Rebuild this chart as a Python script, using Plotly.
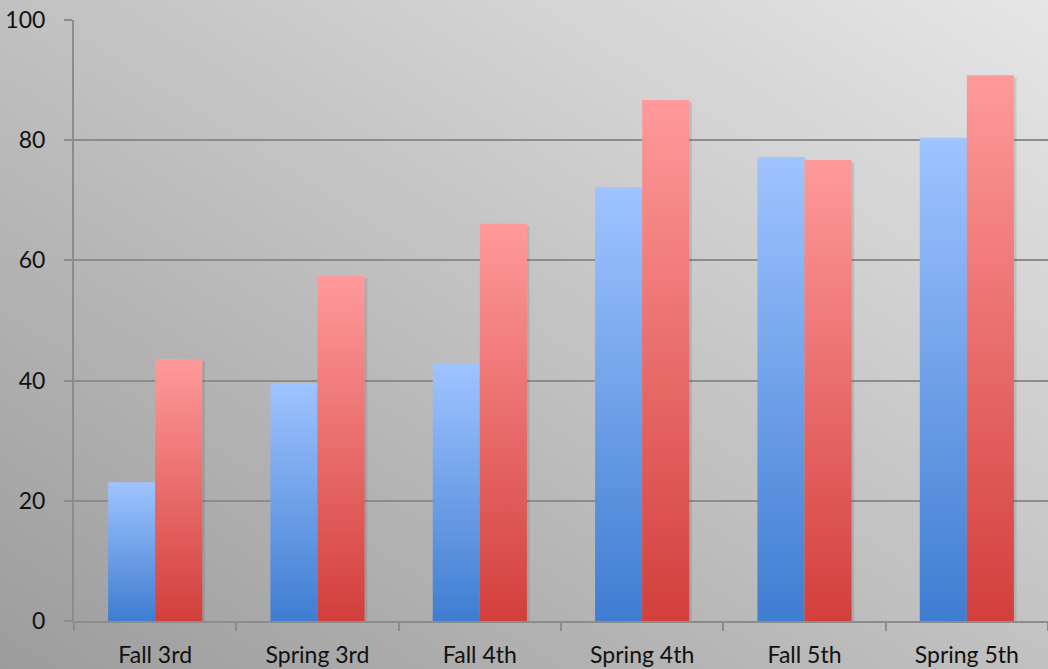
import base64
import plotly.graph_objects as go

categories = ["Fall 3rd", "Spring 3rd", "Fall 4th", "Spring 4th", "Fall 5th", "Spring 5th"]
series_a = [23.1, 39.6, 42.8, 72.2, 77.2, 80.4]
series_b = [43.6, 57.4, 66.1, 86.7, 76.7, 90.8]
y_ticks = [0, 20, 40, 60, 80, 100]

BLUE = ["#3f7dd1", "#9fc4ff"]
RED = ["#d23f3c", "#ff9a9a"]
BAR_W = 0.29
GRID = "#8c8c8c"
FONT = dict(family="Lato, 'Open Sans', sans-serif", size=23, color="#111111")

fig = go.Figure()

def add_bar(i, val, side, cols):
    x0 = i - BAR_W if side == 0 else i
    x1 = x0 + BAR_W
    # soft shadow
    fig.add_trace(go.Scatter(
        x=[x0 + 0.01, x1 + 0.016, x1 + 0.016, x0 + 0.01, x0 + 0.01],
        y=[-0.5, -0.5, val - 0.4, val - 0.4, -0.5],
        fill="toself", mode="none", fillcolor="rgba(60,60,60,0.14)",
        hoverinfo="skip", showlegend=False))
    fig.add_trace(go.Scatter(
        x=[x0, x1, x1, x0, x0], y=[0, 0, val, val, 0],
        fill="toself", mode="none",
        fillgradient=dict(type="vertical", colorscale=[[0, cols[0]], [1, cols[1]]],
                          start=0, stop=val),
        hoverinfo="skip", showlegend=False))

for i, (a, b) in enumerate(zip(series_a, series_b)):
    add_bar(i, a, 0, BLUE)
    add_bar(i, b, 1, RED)

svg = ('<svg xmlns="http://www.w3.org/2000/svg" width="1048" height="669" preserveAspectRatio="none">'
       '<defs><linearGradient id="g" x1="0" y1="1" x2="1" y2="0">'
       '<stop offset="0" stop-color="#9c9c9c"/><stop offset="1" stop-color="#e6e6e6"/>'
       '</linearGradient></defs><rect width="1048" height="669" fill="url(#g)"/></svg>')
src = "data:image/svg+xml;base64," + base64.b64encode(svg.encode()).decode()

L, R, T, B = 74, 0, 20, 48
W, H = 1048, 669
pw, ph = W - L - R, H - T - B

fig.update_layout(
    width=W, height=H,
    margin=dict(l=L, r=R, t=T, b=B),
    paper_bgcolor="#c2c2c2",
    plot_bgcolor="rgba(0,0,0,0)",
    font=FONT,
    showlegend=False,
    images=[dict(source=src, xref="paper", yref="paper",
                 x=-L / pw, y=1 + T / ph, sizex=W / pw, sizey=H / ph,
                 xanchor="left", yanchor="top", sizing="stretch", layer="below")],
    xaxis=dict(range=[-0.5, 5.5], tickvals=list(range(len(categories))), ticktext=categories,
               ticks="", showgrid=False, zeroline=False, showline=True,
               linecolor=GRID, linewidth=2, fixedrange=True, ticklabelstandoff=12,
               minor=dict(tickvals=[i + 0.5 for i in range(-1, len(categories))],
                          ticks="outside", ticklen=8, tickcolor=GRID, tickwidth=1.5,
                          showgrid=False)),
    yaxis=dict(range=[0, 100], tickvals=y_ticks, ticks="outside", ticklen=8,
               tickcolor=GRID, tickwidth=1.5, showgrid=True, gridcolor=GRID, gridwidth=1.5,
               zeroline=False, showline=True, linecolor=GRID, linewidth=2,
               ticklabelstandoff=14, fixedrange=True),
)

fig.write_html("out.html")
